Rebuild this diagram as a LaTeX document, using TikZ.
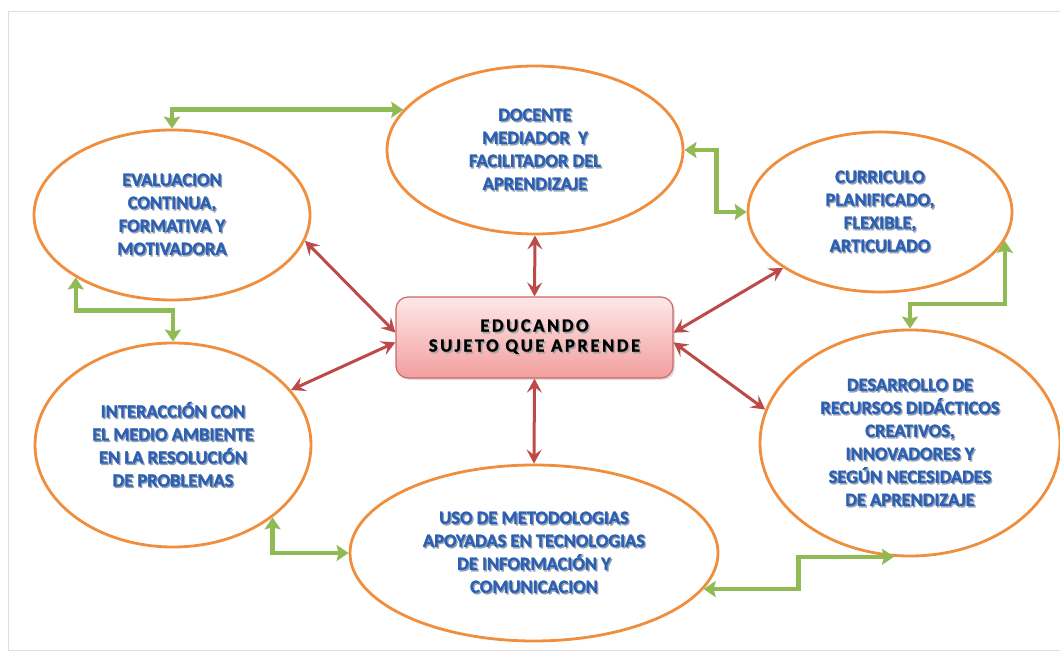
\documentclass[tikz,border=0pt]{standalone}
\usepackage{fontspec}
\setmainfont{Carlito}
\newfontfamily\bubblefont[FakeBold=1.6]{Carlito}
\newfontfamily\boxfont[LetterSpace=14,FakeBold=1.4]{Carlito}
\usetikzlibrary{shapes.geometric,arrows.meta,calc,shadows}
\definecolor{orng}{RGB}{240,142,62}
\definecolor{grn}{RGB}{143,186,84}
\definecolor{redar}{RGB}{188,74,72}
\definecolor{txtblue}{RGB}{44,96,178}
\definecolor{shblue}{RGB}{150,160,180}
\definecolor{pinkA}{RGB}{253,232,232}
\definecolor{pinkB}{RGB}{243,158,158}
\definecolor{boxedge}{RGB}{206,104,104}
\definecolor{framegray}{RGB}{222,222,222}
\newcommand\sht[1]{\leavevmode\rlap{\hspace{1.3pt}\raisebox{-1.5pt}{\textcolor{shblue}{#1}}}#1}
\newcommand\shk[1]{\leavevmode\rlap{\hspace{1.5pt}\raisebox{-1.8pt}{\textcolor{black!35}{#1}}}#1}
\begin{document}
\begin{tikzpicture}[x=1pt,y=-1pt,
  bubble/.style={ellipse, draw=orng, line width=2.8pt, inner sep=0pt, align=center,
    font=\bubblefont\bfseries\fontsize{18.5}{23}\selectfont, text=txtblue, fill=white},
  redlink/.style={draw=redar, line width=3pt,
    {Stealth[length=14pt,width=15pt,inset=5.5pt]}-{Stealth[length=14pt,width=15pt,inset=5.5pt]}},
  grnlink/.style={draw=grn, line width=4.5pt, line join=miter,
    {Stealth[length=12pt,width=16pt,inset=2pt]}-{Stealth[length=12pt,width=16pt,inset=2pt]}},
  centerbox/.style={rounded corners=12pt, draw=boxedge, line width=1.2pt,
    top color=pinkA, bottom color=pinkB, minimum width=277pt, minimum height=81pt,
    align=center, font=\boxfont\bfseries\fontsize{18.5}{20}\selectfont, text=black,
    drop shadow={shadow xshift=2pt, shadow yshift=-2pt, opacity=0.25}}]
\useasboundingbox (0,0) rectangle (1060,655);
\fill[white] (0,0) rectangle (1060,655);
\draw[framegray, line width=1pt] (1062,12) -- (8,12) -- (8,650) -- (1062,650);

\node[bubble, minimum width=276pt, minimum height=170pt] (eval) at (172,215)
  {\sht{EVALUACION}\\\sht{CONTINUA,}\\\sht{FORMATIVA Y}\\\sht{MOTIVADORA}};
\node[bubble, minimum width=296pt, minimum height=168pt] (doc) at (535,150)
  {\sht{DOCENTE}\\\sht{MEDIADOR\ \ Y}\\\sht{FACILITADOR DEL}\\\sht{APRENDIZAJE}};
\node[bubble, minimum width=264pt, minimum height=160pt] (cur) at (880,212)
  {\sht{CURRICULO}\\\sht{PLANIFICADO,}\\\sht{FLEXIBLE,}\\\sht{ARTICULADO}};
\node[bubble, minimum width=276pt, minimum height=204pt] (int) at (173,445)
  {\sht{INTERACCIÓN CON}\\\sht{EL MEDIO AMBIENTE}\\\sht{EN LA RESOLUCIÓN}\\\sht{DE PROBLEMAS}};
\node[bubble, minimum width=368pt, minimum height=176pt] (uso) at (534,553)
  {\sht{USO DE METODOLOGIAS}\\\sht{APOYADAS EN TECNOLOGIAS}\\\sht{DE INFORMACIÓN Y}\\\sht{COMUNICACION}};
\node[bubble, minimum width=300pt, minimum height=226pt] (des) at (910,443)
  {\sht{DESARROLLO DE}\\\sht{RECURSOS DIDÁCTICOS}\\\sht{CREATIVOS,}\\\sht{INNOVADORES Y}\\\sht{SEGÚN NECESIDADES}\\\sht{DE APRENDIZAJE}};

\node[centerbox] (box) at (534.5,337.5) {\shk{EDUCANDO}\\\shk{SUJETO QUE APRENDE}};

% red links
\draw[redlink] (box.north) -- (doc.south);
\draw[redlink] (box.south) -- (uso.north);
\draw[redlink] (box.178) -- (eval.-11);
\draw[redlink] (box.182) -- (int.25);
\draw[redlink] (box.2) -- (cur.210);
\draw[redlink] (box.-2) -- (des.167);

% green links
\draw[grnlink] (eval.north) |- (doc.163);
\draw[grnlink] (doc.east) -- ++(32,0) |- (cur.west);
\draw[grnlink] (cur.-13) -- ++(0,63) -| (des.north);
\draw[grnlink] (eval.213) -- ++(0,33) -| (int.north);
\draw[grnlink] (int.-36) |- (uso.west);
\draw[grnlink] (uso.-12) -- ++(95,0) |- (des.-98);
\end{tikzpicture}
\end{document}
